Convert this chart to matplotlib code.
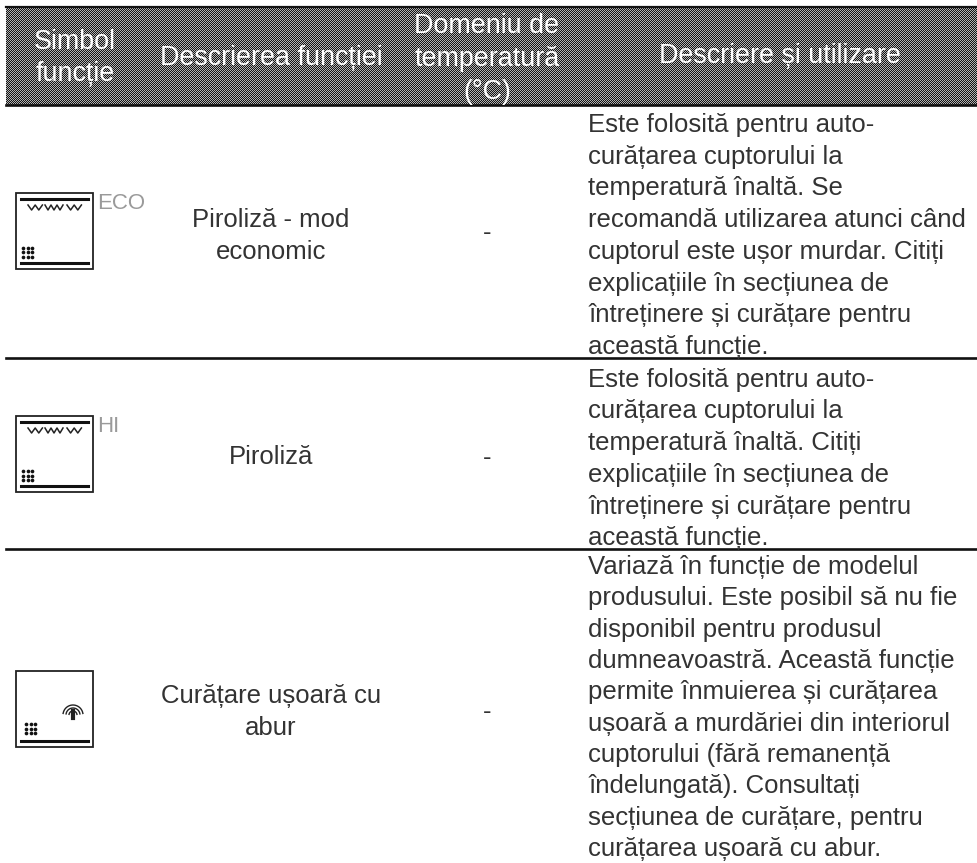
import numpy as np
import matplotlib
matplotlib.use("Agg")
import matplotlib.pyplot as plt
from matplotlib.patches import Rectangle

W, H = 977, 863
headers = ["Simbol\nfuncție", "Descrierea funcției", "Domeniu de\ntemperatură\n(°C)", "Descriere și utilizare"]
names = ["Piroliză - mod\neconomic", "Piroliză", "Curățare ușoară cu\nabur"]
ranges = ["-", "-", "-"]
descs = [
    "Este folosită pentru auto-\ncurățarea cuptorului la\ntemperatură înaltă. Se\nrecomandă utilizarea atunci când\ncuptorul este ușor murdar. Citiți\nexplicațiile în secțiunea de\nîntreținere și curățare pentru\naceastă funcție.",
    "Este folosită pentru auto-\ncurățarea cuptorului la\ntemperatură înaltă. Citiți\nexplicațiile în secțiunea de\nîntreținere și curățare pentru\naceastă funcție.",
    "Variază în funcție de modelul\nprodusului. Este posibil să nu fie\ndisponibil pentru produsul\ndumneavoastră. Această funcție\npermite înmuierea și curățarea\nușoară a murdăriei din interiorul\ncuptorului (fără remanență\nîndelungată). Consultați\nsecțiunea de curățare, pentru\ncurățarea ușoară cu abur.",
]
badges = ["ECO", "HI", ""]

header_x = [75, 271, 487, 780]
header_y = [58, 58, 59, 56]
name_x, range_x, desc_x = 271, 487, 588
name_mid = [236, 457, 712]
range_mid = [233, 458, 712]
desc_mid = [236, 459, 708]
desc_ls = [1.41, 1.41, 1.385]
row_lines = [105, 358, 549]
icon_top = [193, 416, 671]

plt.rcParams["font.family"] = ["Liberation Sans", "DejaVu Sans"]
fig = plt.figure(figsize=(W / 100, H / 100), dpi=100)
ax = fig.add_axes([0, 0, 1, 1])
ax.set_xlim(0, W); ax.set_ylim(H, 0); ax.axis("off")

yy, xx = np.mgrid[0:98, 0:971]
pattern = 0.08 + ((xx + yy) % 2) * 0.62
fig.figimage(pattern, xo=6, yo=H - 105, cmap="gray", vmin=0, vmax=1, origin="upper", zorder=-1, resize=False)
ax.plot([6, 977], [7, 7], color="#111111", lw=1.6, zorder=2)
for y in row_lines:
    ax.plot([6, 977], [y, y], color="#111111", lw=1.9, zorder=2)

FS = 18.5
HFS = 19.4
LS = 1.41
TXT = "#333333"
for x, y, t in zip(header_x, header_y, headers):
    ax.text(x, y, t, color="white", fontsize=HFS, ha="center", va="center", linespacing=1.33, zorder=3)

for i in range(3):
    ax.text(name_x, name_mid[i], names[i], fontsize=FS, ha="center", va="center", linespacing=LS, color=TXT)
    ax.text(range_x, range_mid[i], ranges[i], fontsize=FS, ha="center", va="center", color=TXT)
    ax.text(desc_x, desc_mid[i], descs[i], fontsize=FS, ha="left", va="center", linespacing=desc_ls[i], color=TXT)

    # function icon
    t = icon_top[i]
    ax.add_patch(Rectangle((16, t), 77, 75.5, fill=False, ec="#222222", lw=1.3))
    ax.plot([21, 88], [t + 70, t + 70], color="#111111", lw=2.2)
    dx = 0 if i < 2 else 3
    dots_x = np.array([23, 27.5, 32]) + dx
    dots_y = [t + 55, t + 59.5, t + 64] if i < 2 else [t + 53, t + 57.5, t + 62]
    ax.scatter(np.repeat(dots_x, 3), np.tile(dots_y, 3), s=7, color="#111111", lw=0)
    if i < 2:
        ax.plot([21, 88], [t + 6, t + 6], color="#111111", lw=2.2)
        for x0, n in ((28, 2), (45, 3), (67, 2)):
            zx = x0 + np.arange(2 * n + 1) * (3.6 if n == 2 else 3.0)
            zy = t + 12 + (np.arange(2 * n + 1) % 2) * 5
            ax.plot(zx, zy, color="#222222", lw=1.1)
    else:
        for r in (4, 7, 10):
            th = np.linspace(np.pi * 1.05, np.pi * 1.95, 20)
            ax.plot(73 + r * np.cos(th), t + 44 + r * np.sin(th), color="#222222", lw=1.0)
        ax.plot([73, 73], [t + 40, t + 47], color="#222222", lw=3)
    if badges[i]:
        ax.text(97, t + 10.5, badges[i], fontsize=16, color="#9a9a9a", ha="left", va="center",
                family=["Liberation Sans Narrow", "Liberation Sans"])

fig.savefig("out.png", dpi=100)
